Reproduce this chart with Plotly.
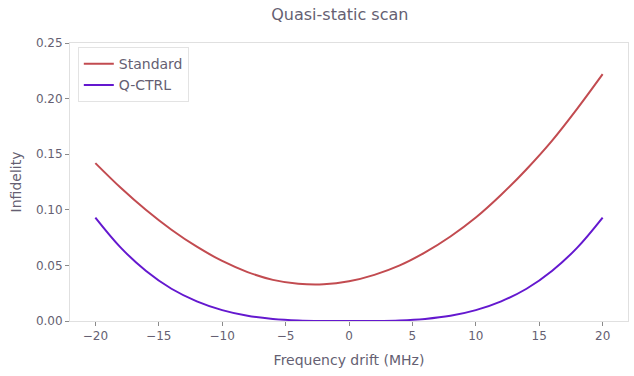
import plotly.graph_objects as go

freq_mhz = [-20, -18, -16, -14, -12, -10, -8, -6, -4, -2, 0, 2, 4, 6, 8, 10, 12, 14, 16, 18, 20]
standard = [0.142, 0.1198, 0.0998, 0.0821, 0.0668, 0.054, 0.044, 0.037, 0.0335, 0.033, 0.0357, 0.0415,
            0.050, 0.0617, 0.076, 0.093, 0.1135, 0.1365, 0.162, 0.191, 0.222]
qctrl = [0.093, 0.066, 0.045, 0.029, 0.0177, 0.0098, 0.0047, 0.0019, 0.0005, 0.00005, 0.0, 0.00005,
         0.0005, 0.0019, 0.0047, 0.0098, 0.0177, 0.029, 0.045, 0.066, 0.093]

x_ticks = [-20, -15, -10, -5, 0, 5, 10, 15, 20]
y_ticks = [0.00, 0.05, 0.10, 0.15, 0.20, 0.25]

font_color = "#655f72"
axis_color = "#e0e0e0"

fig = go.Figure()
fig.add_trace(go.Scatter(x=freq_mhz, y=standard, mode="lines", name="Standard",
                         line=dict(color="#C24B50", width=2, shape="spline")))
fig.add_trace(go.Scatter(x=freq_mhz, y=qctrl, mode="lines", name="Q-CTRL",
                         line=dict(color="#6418CF", width=2, shape="spline")))

axis_common = dict(showgrid=False, zeroline=False, showline=True, linecolor=axis_color,
                   linewidth=1, mirror=True, ticks="outside", ticklen=4, tickcolor="#8a8a8a",
                   tickfont=dict(size=12, color=font_color), automargin=False)

fig.update_layout(
    width=634, height=376,
    margin=dict(l=70, r=6, t=43, b=55),
    paper_bgcolor="white", plot_bgcolor="white",
    font=dict(family="DejaVu Sans", color=font_color),
    title=dict(text="Quasi-static scan", x=0.536, xanchor="center", y=0.963, yanchor="middle",
               font=dict(size=16, color=font_color)),
    xaxis=dict(range=[-22, 22], tickvals=x_ticks, ticktext=[str(t).replace("-", "\u2212") for t in x_ticks],
               title=dict(text="Frequency drift (MHz)", font=dict(size=14, color=font_color), standoff=12),
               **axis_common),
    yaxis=dict(range=[0, 0.25], tickvals=y_ticks, ticktext=[f"{t:.2f}" for t in y_ticks],
               title=dict(text="Infidelity", font=dict(size=14, color=font_color), standoff=10),
               **axis_common),
    legend=dict(x=0.014, y=0.985, xanchor="left", yanchor="top", bgcolor="white",
                bordercolor="#e3e3e3", borderwidth=1, font=dict(size=14, color=font_color),
                tracegroupgap=0),
    showlegend=True,
)

fig.write_html("out.html", config={"displayModeBar": False},
               post_script="document.body.style.margin='0';document.body.style.overflow='hidden';")
